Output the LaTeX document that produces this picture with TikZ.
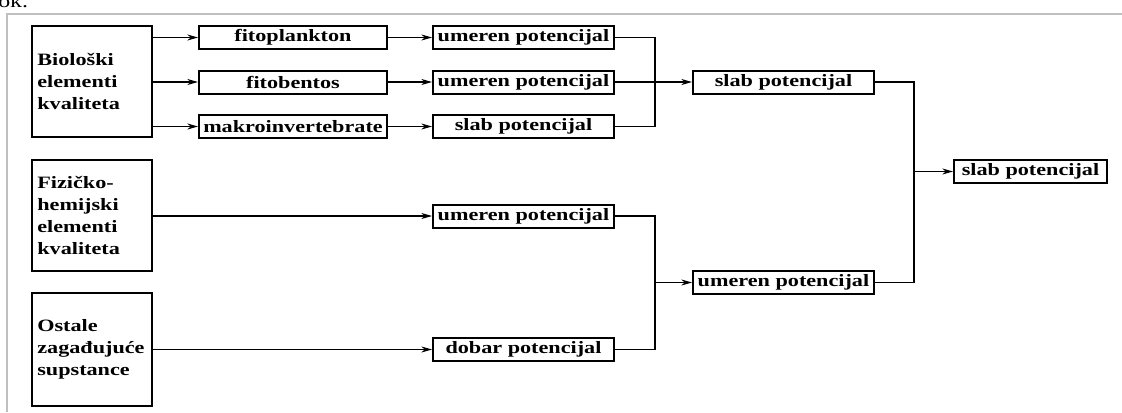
\documentclass[tikz,border=0pt]{standalone}
\usepackage{fontspec}
\setmainfont{Liberation Serif}[FakeStretch=1.28]
\usetikzlibrary{arrows.meta}
\tikzset{
    box/.style = {draw, line width=1.5pt, inner sep=0pt, minimum height=17.25pt,
        font=\fontsize{13}{15}\selectfont\bfseries},
    leftbox/.style = {draw, line width=1.5pt, text width=82pt, inner xsep=4pt, align=left,
        font=\fontsize{13}{16.5}\selectfont\bfseries},
    conn/.style = {line width=0.8pt},
    arr/.style = {conn, -{Stealth[length=8pt, width=4.5pt, inset=2.5pt]}}
}
\begin{document}
\begin{tikzpicture}[x = 0.75pt, y = -0.75pt]
        \useasboundingbox (0, 0) rectangle (1122, 412);
        \node [anchor=base west, inner sep=0pt, font=\fontsize{14}{16}\selectfont] (ok) at (-2, 7) {ok.};
        \draw [line width=1.2pt, gray!50] (7, 412) -- (7, 14) -- (1122, 14);

        \node [leftbox, minimum height=83.25pt] (bio) at (92, 81.5) {Biološki\\elementi\\kvaliteta};
        \node [leftbox, minimum height=83.25pt] (fiz) at (92, 215.5) {Fizičko-\\hemijski\\elementi\\kvaliteta};
        \node [leftbox, minimum height=84.75pt] (ost) at (92, 349.5) {Ostale\\zagađujuće\\supstance};

        \node [box, minimum width=141pt] (fito) at (293, 37.5) {fitoplankton};
        \node [box, minimum width=141pt] (fitob) at (293, 82) {fitobentos};
        \node [box, minimum width=141pt] (makro) at (293, 126.5) {makroinvertebrate};

        \node [box, minimum width=135.75pt] (u1) at (523.5, 37.5) {umeren potencijal};
        \node [box, minimum width=135.75pt] (u2) at (523.5, 82) {umeren potencijal};
        \node [box, minimum width=135.75pt] (s1) at (523.5, 126.5) {slab potencijal};
        \node [box, minimum width=135.75pt] (u3) at (523.5, 216) {umeren potencijal};
        \node [box, minimum width=135.75pt] (d1) at (523.5, 349.5) {dobar potencijal};

        \node [box, minimum width=135.75pt] (s2) at (783.5, 82) {slab potencijal};
        \node [box, minimum width=135.75pt] (u4) at (783.5, 282.5) {umeren potencijal};
        \node [box, minimum width=114.75pt] (s3) at (1030.5, 171.5) {slab potencijal};

        \coordinate (ja) at (655, 82);
        \coordinate (jb) at (655, 282.5);
        \coordinate (jc) at (914, 171.5);

        \draw [arr] (bio.east |- fito) -- (fito);
        \draw [arr] (bio.east |- fitob) -- (fitob);
        \draw [arr] (bio.east |- makro) -- (makro);
        \draw [arr] (fito) -- (u1);
        \draw [arr] (fitob) -- (u2);
        \draw [arr] (makro) -- (s1);
        \draw [arr] (fiz.east |- u3) -- (u3);
        \draw [arr] (ost.east |- d1) -- (d1);

        \draw [conn] (u1) -| (ja) |- (s1);
        \draw [arr] (u2) -- (s2);
        \draw [conn] (u3) -| (jb) |- (d1);
        \draw [arr] (jb) -- (u4);
        \draw [conn] (s2) -| (jc) |- (u4);
        \draw [arr] (jc) -- (s3);
    \end{tikzpicture}
\end{document}
